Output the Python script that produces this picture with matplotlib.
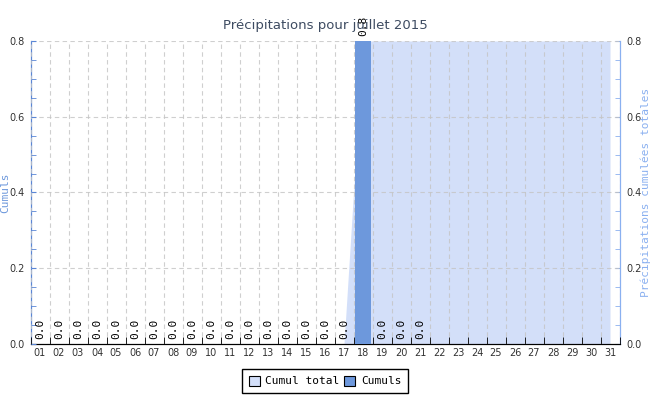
import numpy as np
import matplotlib
matplotlib.use("Agg")
import matplotlib.pyplot as plt
from matplotlib.patches import Patch
from matplotlib.ticker import MultipleLocator

# Data
days = ['01', '02', '03', '04', '05', '06', '07', '08', '09', '10',
        '11', '12', '13', '14', '15', '16', '17', '18', '19', '20',
        '21', '22', '23', '24', '25', '26', '27', '28', '29', '30', '31']
cumuls = [0.0, 0.0, 0.0, 0.0, 0.0, 0.0, 0.0, 0.0, 0.0, 0.0,
          0.0, 0.0, 0.0, 0.0, 0.0, 0.0, 0.0, 0.8, 0.0, 0.0, 0.0]
cumul_total = [0.0, 0.0, 0.0, 0.0, 0.0, 0.0, 0.0, 0.0, 0.0, 0.0,
               0.0, 0.0, 0.0, 0.0, 0.0, 0.0, 0.0, 0.8, 0.8, 0.8,
               0.8, 0.8, 0.8, 0.8, 0.8, 0.8, 0.8, 0.8, 0.8, 0.8, 0.8]

bar_col = '#6d98dc'
area_col = '#d3dff9'

x = np.arange(1, len(days) + 1)
xb = np.arange(1, len(cumuls) + 1)

fig = plt.figure(figsize=(6.5, 4), dpi=100)
ax = fig.add_axes([30.5 / 650, 56 / 400, 589 / 650, 303 / 400])
ax2 = ax.twinx()

# area on secondary axis, behind
ax2.fill_between(x, cumul_total, color=area_col, lw=0, zorder=1)
ax2.set_ylim(0, 0.8)

ax.set_zorder(ax2.get_zorder() + 1)
ax.patch.set_visible(False)
ax.bar(xb, cumuls, width=0.85, color=bar_col, zorder=3)
for xi, v in zip(xb, cumuls):
    ax.text(xi, v + 0.012, f'{v:.1f}', rotation=90, ha='center', va='bottom',
            fontsize=8, fontfamily='DejaVu Sans Mono', clip_on=False, zorder=4)

ax.set_xlim(0.5, len(days) + 0.5)
ax.set_ylim(0, 0.8)
ax.set_xticks(x)
ax.set_xticklabels(days)
ax.set_xticks(np.arange(0.5, len(days) + 1), minor=True)
ax.tick_params(axis='x', which='major', length=0, labelsize=7, colors='#333333', pad=3)
ax.tick_params(axis='x', which='minor', length=5, direction='in', color='black')
ax.grid(True, axis='x', which='minor', ls=(0, (4, 3)), color='#c4c4c4', lw=0.8, alpha=0.8)
ax.grid(True, axis='y', which='major', ls=(0, (4, 3)), color='#c4c4c4', lw=0.8, alpha=0.8)
ax.set_axisbelow(False)

ax.yaxis.set_major_locator(MultipleLocator(0.2))
ax.yaxis.set_minor_locator(MultipleLocator(0.05))
ax.tick_params(axis='y', which='both', direction='in', length=3.5, color='#5a86d6',
               labelsize=7, labelcolor='#333333', pad=4)
ax.set_ylabel('Cumuls', color='#6d98dc', fontsize=8, fontfamily='DejaVu Sans Mono')
ax.yaxis.set_label_coords(-20 / 589, 0.5)

ax2.yaxis.set_major_locator(MultipleLocator(0.2))
ax2.yaxis.set_minor_locator(MultipleLocator(0.05))
ax2.tick_params(axis='y', which='both', direction='in', length=3.5, color='#8ab0f0',
                labelsize=7, labelcolor='#333333', pad=5)
ax2.set_ylabel('Précipitations cumulées totales', color='#8ab0f0', fontsize=8,
               fontfamily='DejaVu Sans Mono')
ax2.yaxis.set_label_coords(1 + 21 / 589, 0.5)

for a in (ax, ax2):
    a.spines['top'].set_visible(False)
    a.spines['bottom'].set_color('black')
    a.spines['left'].set_color('#5a86d6')
    a.spines['right'].set_color('#8ab0f0')

ax.set_title('Précipitations pour juillet 2015', fontsize=9.5, color='#3d4b61', pad=9)

handles = [Patch(facecolor=area_col, edgecolor='black', lw=0.8, label='Cumul total'),
           Patch(facecolor=bar_col, edgecolor='black', lw=0.8, label='Cumuls')]
leg = fig.legend(handles=handles, loc='center', bbox_to_anchor=(325 / 650, 1 - 381 / 400),
                 ncol=2, fancybox=False, edgecolor='black', framealpha=1,
                 prop={'family': 'DejaVu Sans Mono', 'size': 8},
                 handlelength=1.0, handleheight=1.0, handletextpad=0.5, columnspacing=0.4,
                 borderpad=0.6)
leg.get_frame().set_linewidth(1.0)

fig.savefig('out.png', dpi=100)
